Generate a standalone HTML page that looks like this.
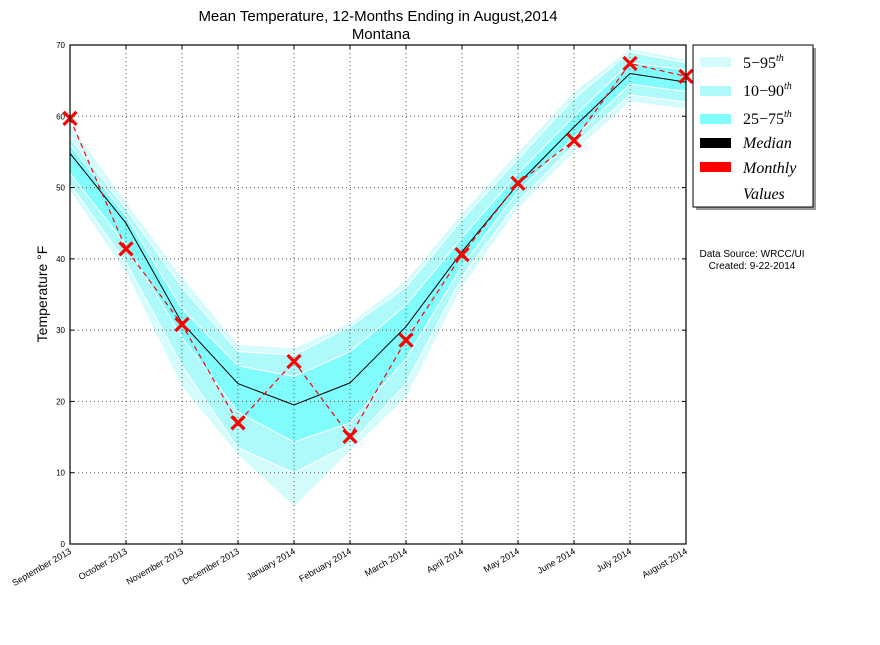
<!DOCTYPE html>
<html><head><meta charset="utf-8"><style>
body{margin:0;background:#fff;}
</style></head><body>
<svg id="chart" width="880" height="640" font-family="Liberation Sans, sans-serif">
<text x="378" y="21" text-anchor="middle" font-size="15">Mean Temperature, 12-Months Ending in August,2014</text>
<text x="381" y="39" text-anchor="middle" font-size="15">Montana</text>
<text transform="translate(47,294) rotate(-90)" text-anchor="middle" font-size="14">Temperature °F</text>
<g id="plot"></g>
<g style="font-family:'Liberation Serif',serif">
<rect x="696" y="48" width="120" height="162" fill="#999"/>
<rect x="693" y="45" width="120" height="162" fill="#fff" stroke="#000"/>
<rect x="700" y="57" width="31" height="10" fill="#d5fcfc"/><text x="743" y="68" font-size="16">5−95<tspan font-size="10" dy="-7" font-style="italic">th</tspan></text>
<rect x="700" y="86" width="31" height="10" fill="#aefafa"/><text x="743" y="96" font-size="16">10−90<tspan font-size="10" dy="-7" font-style="italic">th</tspan></text>
<rect x="700" y="114" width="31" height="10" fill="#80fcfc"/><text x="743" y="124" font-size="16">25−75<tspan font-size="10" dy="-7" font-style="italic">th</tspan></text>
<rect x="700" y="138" width="31" height="10" fill="#000"/><text x="743" y="148" font-size="16" font-style="italic">Median</text>
<rect x="700" y="162" width="31" height="10" fill="#f00"/><text x="743" y="173" font-size="16" font-style="italic">Monthly</text>
<text x="743" y="199" font-size="16" font-style="italic">Values</text>
</g>
<text x="752" y="257" text-anchor="middle" font-size="10">Data Source: WRCC/UI</text>
<text x="752" y="269" text-anchor="middle" font-size="10">Created: 9-22-2014</text>
</svg>
<script>
const categories=["September 2013","October 2013","November 2013","December 2013","January 2014","February 2014","March 2014","April 2014","May 2014","June 2014","July 2014","August 2014"];
const p5=[49.5,38,22,12.5,5.2,13,20.5,36,47,55,62,61];
const p95=[59,48,37.5,28,27.5,31,37,46.5,55,63.5,69.5,68];
const p10=[50.5,39.5,25,13.5,10,14,22.5,37.5,48,56,63,62];
const p90=[57,47,36,27,26.5,30.5,36,45.5,54,62.5,69,67.5];
const p25=[52,42,29,18.5,14.3,17,26,39,49.5,57,64.5,63.5];
const p75=[56,46,33,25,23.5,27,33.5,43,52,60,67.5,66.5];
const median=[54.8,45,31,22.5,19.5,22.6,30.5,41,50.5,58.5,66,64.8];
const monthly=[59.7,41.4,30.8,17,25.6,15.1,28.6,40.6,50.6,56.6,67.4,65.6];
const yTicks=[0,10,20,30,40,50,60,70];

const NS="http://www.w3.org/2000/svg";
const X0=70,X1=686,Y0=544,Y1=45;
const xs=i=>X0+i*(X1-X0)/(categories.length-1);
const ys=v=>Y0-(v-0)/(70-0)*(Y0-Y1);
const g=document.getElementById('plot');
function mk(t,a,p){const e=document.createElementNS(NS,t);for(const k in a)e.setAttribute(k,a[k]);(p||g).appendChild(e);return e;}
function band(lo,hi,fill,name){
  let d=lo.map((v,i)=>(i?'L':'M')+xs(i)+','+ys(v)).join('');
  for(let i=hi.length-1;i>=0;i--)d+='L'+xs(i)+','+ys(hi[i]);
  const e=mk('path',{d:d+'Z',fill:fill,stroke:'#fff','stroke-width':1});
  
  
}
band(p5,p95,'#d5fcfc','band-5-95');
band(p10,p90,'#aefafa','band-10-90');
band(p25,p75,'#80fcfc','band-25-75');
yTicks.forEach(v=>{
  if(v>0&&v<70) mk('line',{x1:X0,x2:X1,y1:ys(v),y2:ys(v),stroke:'#555','stroke-dasharray':'1,3','stroke-width':1});
  const t=mk('text',{x:X0-5,y:ys(v)+3,'text-anchor':'end','font-size':8});
  t.textContent=v;
  
  
  mk('line',{x1:X0,x2:X0+4,y1:ys(v),y2:ys(v),stroke:'#000'});
  mk('line',{x1:X1,x2:X1-4,y1:ys(v),y2:ys(v),stroke:'#000'});
});
categories.forEach((c,i)=>{
  if(i>0&&i<categories.length-1) mk('line',{x1:xs(i),x2:xs(i),y1:Y1,y2:Y0,stroke:'#555','stroke-dasharray':'1,3','stroke-width':1});
  mk('line',{x1:xs(i),x2:xs(i),y1:Y0,y2:Y0-4,stroke:'#000'});
  mk('line',{x1:xs(i),x2:xs(i),y1:Y1,y2:Y1+4,stroke:'#000'});
  const t=mk('text',{x:xs(i)+2,y:Y0+9,'text-anchor':'end','font-size':9,transform:`rotate(-30 ${xs(i)+2} ${Y0+9})`});
  t.textContent=c;
  
  
});
const ml=mk('polyline',{points:median.map((v,i)=>xs(i)+','+ys(v)).join(' '),fill:'none',stroke:'#000','stroke-width':1});


const mo=mk('polyline',{points:monthly.map((v,i)=>xs(i)+','+ys(v)).join(' '),fill:'none',stroke:'#f00','stroke-width':1.2,'stroke-dasharray':'5,4'});


monthly.forEach((v,i)=>{
  const x=xs(i),y=ys(v),s=6.5;
  const p=mk('path',{d:`M${x-s},${y-s}L${x+s},${y+s}M${x-s},${y+s}L${x+s},${y-s}`,stroke:'#f00','stroke-width':3.2});
  
  
});
const fr=mk('rect',{x:X0,y:Y1,width:X1-X0,height:Y0-Y1,fill:'none',stroke:'#000','stroke-width':1.2});


</script>
</body></html>
